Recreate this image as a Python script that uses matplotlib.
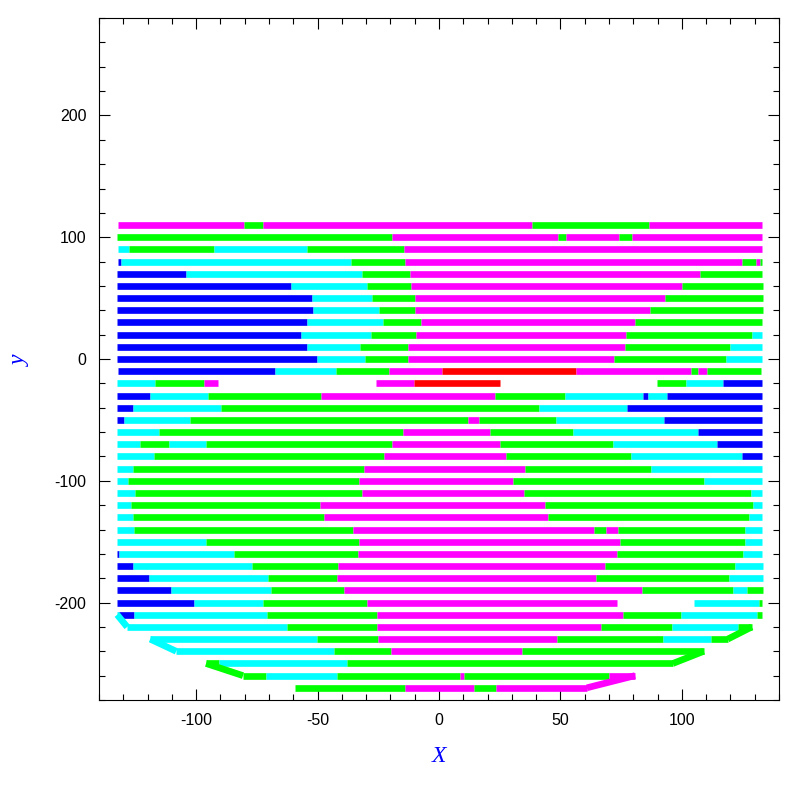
import numpy as np
import matplotlib
matplotlib.use("Agg")
import matplotlib.pyplot as plt
from matplotlib.ticker import MultipleLocator

plt.rcParams["axes.unicode_minus"] = False

# scan rows, top to bottom
row_y = [110, 100, 90, 80, 70, 60, 50, 40, 30, 20, 10, 0, -10, -20, -30, -40,
         -50, -60, -70, -80, -90, -100, -110, -120, -130, -140, -150, -160,
         -170, -180, -190, -200, -210, -220, -230, -240, -250, -260, -270]

# segment edges along x for each row
row_edges = [
    [-132.3, -80.2, -72.4, 38.1, 86.4, 133.2],
    [-132.5, -19.3, 48.8, 52.1, 74.1, 79.4, 133.0],
    [-132.1, -127.6, -92.6, -54.3, -14.4, 133.0],
    [-132.1, -130.9, -36.3, -13.8, 124.6, 130.5, 132.1, 132.9],
    [-132.5, -104.1, -31.7, -11.9, 107.4, 132.9],
    [-132.5, -60.9, -29.6, -11.5, 100.0, 133.3],
    [-132.5, -52.3, -27.6, -9.9, 93.0, 133.3],
    [-132.5, -51.9, -24.7, -9.9, 86.8, 133.3],
    [-132.5, -54.3, -23.0, -7.4, 80.7, 132.9],
    [-132.5, -56.8, -28.0, -9.5, 76.8, 128.8, 132.9],
    [-132.5, -54.3, -32.5, -12.8, 76.5, 119.8, 132.9],
    [-132.5, -50.2, -30.5, -12.8, 72.0, 118.1, 132.9],
    [-132.1, -67.5, -42.4, -20.6, 1.2, 56.4, 103.7, 106.6, 110.3, 132.5],
    [-132.5, -116.9, -96.7, -90.9, -25.9, -10.2, 25.1, 89.7, 101.6, 116.9, 132.9],
    [-132.5, -118.9, -95.0, -48.6, 23.0, 51.9, 84.0, 86.0, 93.8, 132.9],
    [-132.5, -125.9, -89.7, 41.2, 77.4, 132.9],
    [-132.5, -129.6, -102.5, 11.9, 16.5, 48.1, 92.6, 132.9],
    [-132.5, -115.2, -14.8, 21.0, 55.1, 106.6, 132.9],
    [-132.5, -123.0, -111.1, -95.9, -19.3, 25.1, 71.6, 114.4, 132.9],
    [-132.5, -117.3, -22.6, 27.6, 79.0, 124.7, 132.9],
    [-132.5, -125.9, -30.9, 35.4, 87.2, 132.9],
    [-132.5, -128.0, -32.9, 30.5, 109.0, 132.9],
    [-132.5, -125.1, -31.7, 35.0, 128.4, 132.9],
    [-132.5, -126.7, -49.0, 43.6, 129.2, 132.9],
    [-132.5, -125.9, -47.3, 44.9, 127.6, 132.9],
    [-132.5, -125.5, -35.4, 63.8, 68.7, 73.7, 125.9, 132.9],
    [-132.5, -95.9, -32.9, 74.5, 125.9, 132.9],
    [-132.5, -131.7, -84.4, -33.3, 73.3, 125.1, 132.9],
    [-132.5, -125.9, -77.0, -41.6, 68.3, 121.8, 133.3],
    [-132.5, -119.3, -70.4, -42.0, 64.6, 119.3, 133.3],
    [-132.5, -110.3, -69.1, -39.1, 83.5, 121.0, 126.7, 133.3],
    [-132.5, -100.8, -72.4, -29.6, 73.3, 104.9, 131.7, 132.9],
    [-132.5, -131.7, -125.5, -70.8, -25.5, 75.7, 99.6, 130.9, 132.9],
    [-128.4, -62.6, -25.5, 66.7, 95.9, 123.0, 128.8],
    [-118.9, -50.2, -25.1, 48.6, 92.2, 111.9, 118.9],
    [-108.2, -43.2, -19.8, 34.2, 109.0],
    [-95.9, -90.5, -37.9, 96.3],
    [-80.7, -71.2, -42.0, 8.6, 10.3, 70.0, 80.7],
    [-59.3, -14.0, 14.4, 23.5, 60.9],
]

# one letter per segment, '-' = nothing drawn
row_codes = [
    "mgmgm", "gmgmgm", "cgcgm", "bcgmgmg", "bcgmg", "bcgmg", "bcgmg",
    "bcgmg", "bcgmg", "bcgmgc", "bcgmgc", "bcgmgc", "bcgmrmgmg",
    "cgm-mr-gcb", "bcgmgcbcb", "bcgcb", "bcgmgcb", "cgmgcb", "cgcgmgcb",
    "cgmgcb", "cgmgc", "cgmgc", "cgmgc", "cgmgc", "cgmgc", "cgmgmgc",
    "cgmgc", "bcgmgc", "bcgmgc", "bcgmgc", "bcgmgcg", "bcgm-cg",
    "cbcgmgcg", "cgmgcg", "cgmgcg", "cgmg", "gcg", "gcgmgm", "gmgm",
]

# turns between rows at the bottom: (row index, side, colour)
turns = [(32, "left", "c"), (33, "right", "g"), (34, "left", "c"),
         (35, "right", "g"), (36, "left", "g"), (37, "right", "m")]

colors = {"b": "#0000ff", "c": "#00ffff", "g": "#00ff00",
          "m": "#ff00ff", "r": "#ff0000"}

LW = 4.8

fig = plt.figure(figsize=(7.97, 7.97), dpi=100)
ax = fig.add_axes([0.1242, 0.1217, 0.8532, 0.8557])

for y, edges, codes in zip(row_y, row_edges, row_codes):
    for i, c in enumerate(codes):
        if c == "-":
            continue
        ax.hlines(y, edges[i], edges[i + 1], colors=colors[c],
                  linewidth=LW, capstyle="butt")

for i, side, c in turns:
    k = 0 if side == "left" else -1
    ax.plot([row_edges[i][k], row_edges[i + 1][k]], [row_y[i], row_y[i + 1]],
            color=colors[c], linewidth=LW, solid_capstyle="butt")

ax.set_xlim(-140, 140)
ax.set_ylim(-280, 280)

ax.xaxis.set_major_locator(MultipleLocator(50))
ax.xaxis.set_minor_locator(MultipleLocator(10))
ax.yaxis.set_major_locator(MultipleLocator(100))
ax.yaxis.set_minor_locator(MultipleLocator(20))

ax.tick_params(which="both", direction="in", top=True, right=True,
               width=0.8, colors="black", labelsize=11.5, pad=9)
ax.tick_params(which="major", length=8)
ax.tick_params(which="minor", length=4)
for lab in ax.get_xticklabels() + ax.get_yticklabels():
    lab.set_family("Liberation Sans")
for s in ax.spines.values():
    s.set_linewidth(0.8)

ax.set_xlabel("X", fontsize=17, color="blue", family="Liberation Serif",
              style="italic", va="center")
ax.xaxis.set_label_coords(0.5, -0.083)
ax.set_ylabel("y", fontsize=17, color="blue", family="Liberation Serif",
              style="italic", va="center")
ax.yaxis.set_label_coords(-0.116, 0.497)

fig.savefig("out.png", dpi=100)
